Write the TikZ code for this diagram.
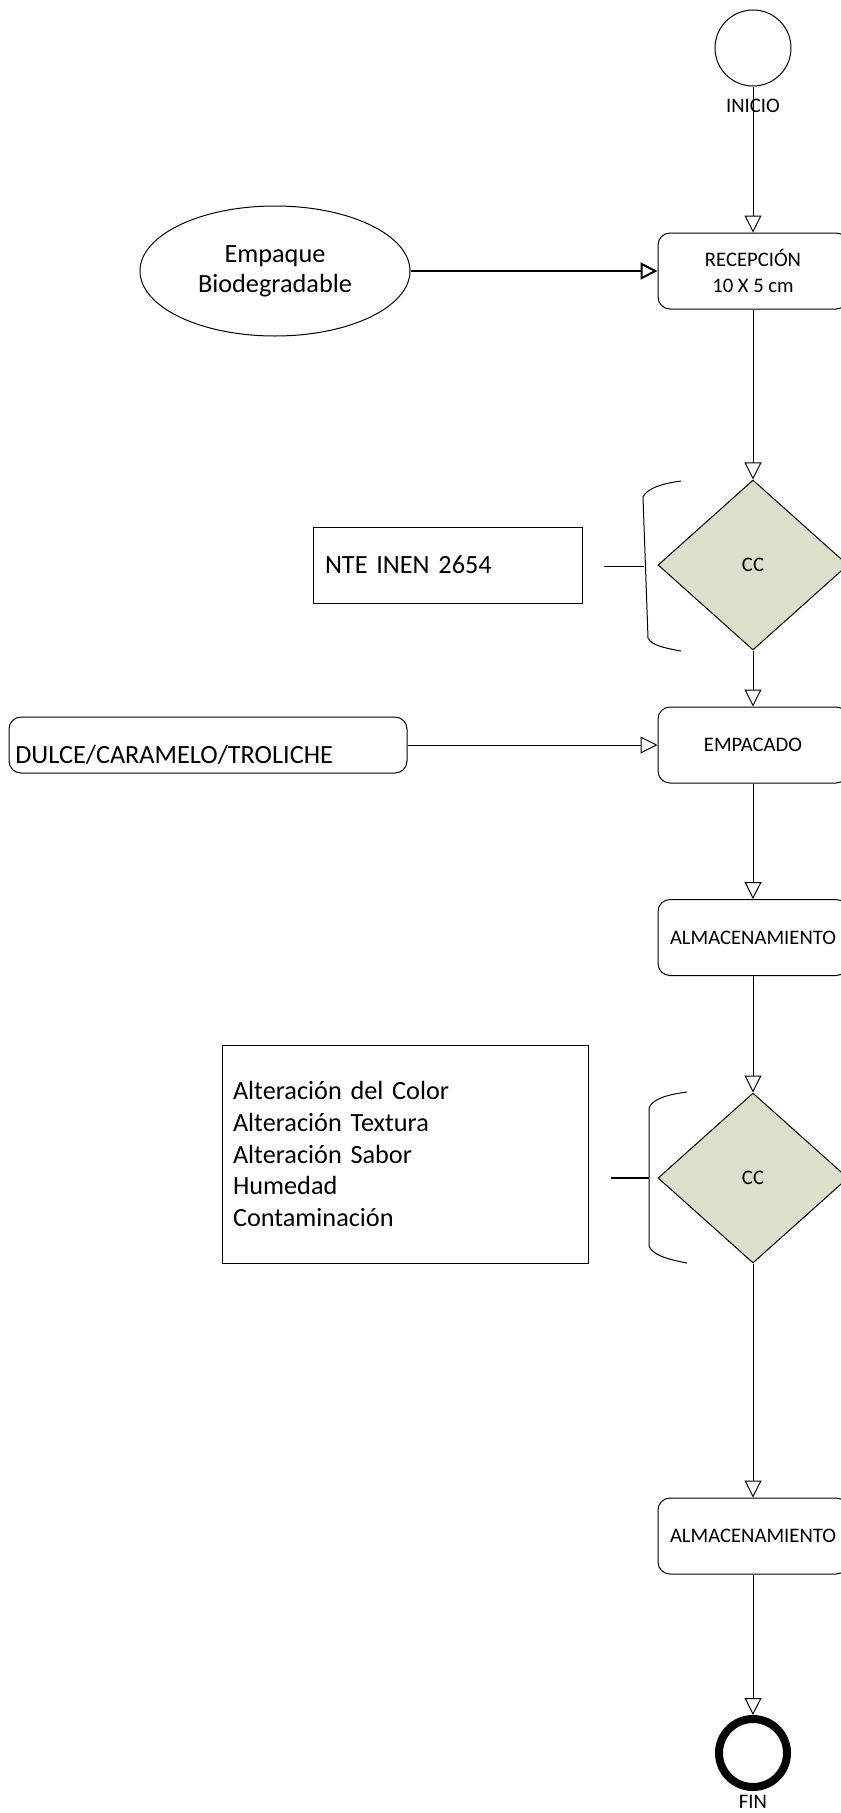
\documentclass[tikz,border=0pt]{standalone}
\usepackage{fontspec}
\setmainfont{Carlito}
\usetikzlibrary{arrows.meta, shapes.geometric, positioning}
\definecolor{ccFill}{HTML}{DDDFCC}
\tikzset{
  flow/.style      = {-{Triangle[fill=white, length=12.75pt, width=12.75pt]}, line width=0.75pt},
  smalltxt/.style  = {font=\fontsize{15.5}{19.5}\selectfont},
  bigtxt/.style    = {font=\fontsize{19.7}{23.8}\selectfont},
  stepbox/.style   = {draw, line width=0.75pt, rounded corners=9pt, minimum width=142.5pt,
                      minimum height=57pt, inner sep=1pt, align=center, smalltxt},
  ccnode/.style    = {diamond, draw, line width=0.75pt, fill=ccFill, minimum width=142.5pt,
                      minimum height=127.5pt, inner sep=0pt, smalltxt},
  startnode/.style = {circle, draw, line width=0.75pt, minimum size=57pt, inner sep=0pt},
  endnode/.style   = {circle, draw, line width=6pt, minimum size=51pt, inner sep=0pt},
  notebox/.style   = {draw, line width=0.75pt, align=left, bigtxt},
  bracket/.style   = {line width=0.75pt},
}

\begin{document}
\begin{tikzpicture}[x=0.75pt, y=-0.75pt]
  \useasboundingbox (0,0) rectangle (841,1813);
  % main line of the process
  \node[startnode] (start) at (753,48) {};
  \node[smalltxt] (inicio) at (753,106) {INICIO};
  \node[stepbox] (rec) at (753,271) {RECEPCIÓN\\10 X 5 cm};
  \node[ccnode] (cc1) at (753,565) {CC};
  \node[stepbox] (emp) at (753,745) {EMPACADO};
  \node[stepbox] (alm1) at (753,937.5) {ALMACENAMIENTO};
  \node[ccnode] (cc2) at (753,1178) {CC};
  \node[stepbox] (alm2) at (753,1536) {ALMACENAMIENTO};
  \node[endnode] (fin) at (753,1753) {};
  \node[smalltxt] (fintxt) at (753,1802) {FIN};
  % inputs on the left
  \node[ellipse, draw, line width=0.75pt, minimum width=202.5pt, minimum height=97.5pt,
        align=center, font=\fontsize{19.7}{22.5}\selectfont] (empaque) at (275,271)
        {Empaque\\Biodegradable};
  \node[draw, line width=0.75pt, rounded corners=9pt, minimum width=298.5pt,
        minimum height=42pt] (dulce) at (208,745) {};
  \node[bigtxt, anchor=west, inner sep=0pt] (dulcetxt) at (15,755) {DULCE/CARAMELO/TROLICHE};
  % control criteria
  \node[notebox, minimum width=201.75pt, minimum height=57pt, inner xsep=9pt,
        text width=183.75pt] (nte) at (447.5,565) {NTE INEN 2654};
  \node[notebox, minimum width=274.5pt, minimum height=163.5pt, inner xsep=8.25pt,
        text width=258pt] (alter) at (405,1154)
        {Alteración del Color\\Alteración Textura\\Alteración Sabor\\Humedad\\Contaminación};
  % brackets round the control points
  \draw[bracket] (681,481) .. controls (658,484) and (646,490) .. (643,497)
    -- (648,638) .. controls (651,645) and (664,648) .. (681,651);
  \coordinate (tick1a) at (604,566);
  \coordinate (tick1b) at (643.5,566);
  \draw[bracket] (tick1a) -- (tick1b);
  \draw[bracket] (687,1092) .. controls (664,1095) and (652,1100) .. (649,1108)
    -- (649,1246) .. controls (652,1254) and (665,1259) .. (687,1263);
  \coordinate (tick2a) at (611,1178);
  \coordinate (tick2b) at (649,1178);
  \draw[line width=1.5pt] (tick2a) -- (tick2b);
  % connectors
  \draw[flow] (start) -- (rec);
  \draw[flow, line width=1.5pt] (empaque) -- (rec);
  \draw[flow] (rec) -- (cc1);
  \draw[flow] (cc1) -- (emp);
  \draw[flow] (dulce) -- (emp);
  \draw[flow] (emp) -- (alm1);
  \draw[flow] (alm1) -- (cc2);
  \draw[flow] (cc2) -- (alm2);
  \draw[flow] (alm2) -- (fin);
\end{tikzpicture}
\end{document}
